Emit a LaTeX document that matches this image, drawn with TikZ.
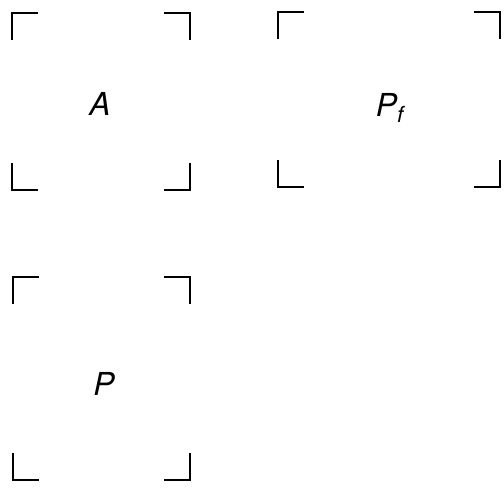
\documentclass[tikz,border=0pt]{standalone}
\usepackage{fontspec}
\setmainfont{TeX Gyre Heros}
\usepackage{tikz}

\begin{document}
\begin{tikzpicture}[x=0.02cm, y=-0.02cm,
    bracket/.style={line width=1.5pt},
    lbl/.style={font=\fontsize{18}{20}\selectfont\itshape}]
  \useasboundingbox (0,0) rectangle (504,491);
  % labels
  \node[lbl] (A)  at (100,104) {A};
  \node[lbl] (Pf) at (390,108) {P\textsubscript{f}};
  \node[lbl] (P)  at (104,384) {P};
  % corner marks of the three frames
  \foreach \xa/\ya/\xb/\yb in {12/13/190/190, 278/12/500/187, 13/277/190/480} {
    \draw[bracket] (\xa,\ya+27) -- (\xa,\ya) -- (\xa+26,\ya);
    \draw[bracket] (\xb-26,\ya) -- (\xb,\ya) -- (\xb,\ya+27);
    \draw[bracket] (\xa,\yb-27) -- (\xa,\yb) -- (\xa+26,\yb);
    \draw[bracket] (\xb-26,\yb) -- (\xb,\yb) -- (\xb,\yb-27);
  }
\end{tikzpicture}
\end{document}
